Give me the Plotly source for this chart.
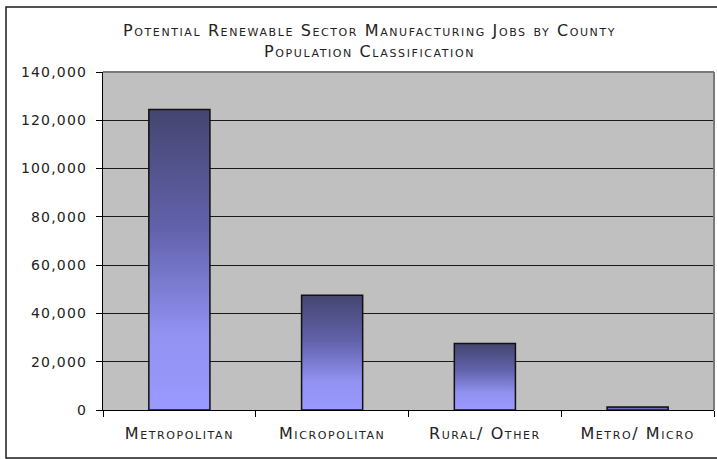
import plotly.graph_objects as go

categories = ["Metropolitan", "Micropolitan", "Rural/ Other", "Metro/ Micro"]
jobs = [124500, 47500, 27500, 1200]
y_ticks = [0, 20000, 40000, 60000, 80000, 100000, 120000, 140000]
title_text = "Potential Renewable Sector Manufacturing Jobs by County<br>Population Classification"

W, H = 717, 459
L, R, T, B = 103, 3, 72, 49
pw, ph = W - L - R, H - T - B

def px_x(p):
    return (p - L) / pw

def px_y(p):
    return (H - B - p) / ph

FONT = "DejaVu Sans"
TXT = "#222222"

fig = go.Figure()
half = 0.2
for i, v in enumerate(jobs):
    fig.add_trace(go.Scatter(
        x=[i - half, i + half, i + half, i - half, i - half],
        y=[0, 0, v, v, 0],
        mode="lines",
        fill="toself",
        fillgradient=dict(type="vertical",
                          colorscale=[[0, "#9999FF"], [0.25, "#9292F2"],
                                      [0.6, "#6262AC"], [1, "#454570"]]),
        line=dict(color="#111111", width=1.5),
        hoverinfo="skip",
        showlegend=False,
    ))

fig.update_layout(
    width=W, height=H,
    margin=dict(l=L, r=R, t=T, b=B, pad=0),
    paper_bgcolor="white",
    plot_bgcolor="#C0C0C0",
    font=dict(family=FONT, size=13, color=TXT),
    xaxis=dict(
        range=[-0.5, len(categories) - 0.5],
        tickmode="array",
        tickvals=list(range(len(categories))),
        ticktext=categories,
        ticks="",
        showgrid=False,
        zeroline=False,
        showline=True, linecolor="black", linewidth=1,
        tickfont=dict(family=FONT, size=16, color=TXT, variant="small-caps"),
        ticklabelstandoff=9,
        minor=dict(tickmode="array",
                   tickvals=[k - 0.5 for k in range(len(categories) + 1)],
                   ticks="outside", ticklen=6, tickcolor="black", tickwidth=1,
                   showgrid=False),
        fixedrange=True,
    ),
    yaxis=dict(
        range=[0, 140000],
        tickmode="array",
        tickvals=y_ticks,
        ticktext=[f"{t:,}" for t in y_ticks],
        ticks="outside", ticklen=6, tickcolor="black", tickwidth=1,
        showgrid=True, gridcolor="#1a1a1a", gridwidth=1,
        zeroline=True, zerolinecolor="black", zerolinewidth=1,
        showline=True, linecolor="black", linewidth=1,
        tickfont=dict(family=FONT, size=14, color=TXT),
        ticklabelstandoff=6,
        fixedrange=True,
    ),
    annotations=[dict(
        text=title_text, xref="paper", yref="paper",
        x=px_x(369), y=px_y(41), xanchor="center", yanchor="middle",
        showarrow=False, align="center",
        font=dict(family=FONT, size=16, color=TXT, variant="small-caps"),
    )],
    shapes=[
        dict(type="line", xref="paper", yref="paper", x0=0, x1=1, y0=1, y1=1,
             line=dict(color="#7a7a7a", width=2)),
        dict(type="line", xref="paper", yref="paper", x0=1, x1=1, y0=0, y1=1,
             line=dict(color="#7a7a7a", width=2)),
        dict(type="rect", xref="paper", yref="paper",
             x0=px_x(6), x1=px_x(800), y0=px_y(458), y1=px_y(7),
             line=dict(color="#1a1a1a", width=1.5), fillcolor="rgba(0,0,0,0)",
             layer="above"),
    ],
)

post = """
document.body.style.margin = '0';
document.querySelectorAll('.xtick text').forEach(function(t){ t.style.letterSpacing = '1.6px'; });
document.querySelectorAll('.annotation-text').forEach(function(t){ t.style.letterSpacing = '1.6px'; });
document.querySelectorAll('.ytick text').forEach(function(t){ t.style.letterSpacing = '1.2px'; });
"""

fig.write_html("out.html", post_script=post, config={"displayModeBar": False})
